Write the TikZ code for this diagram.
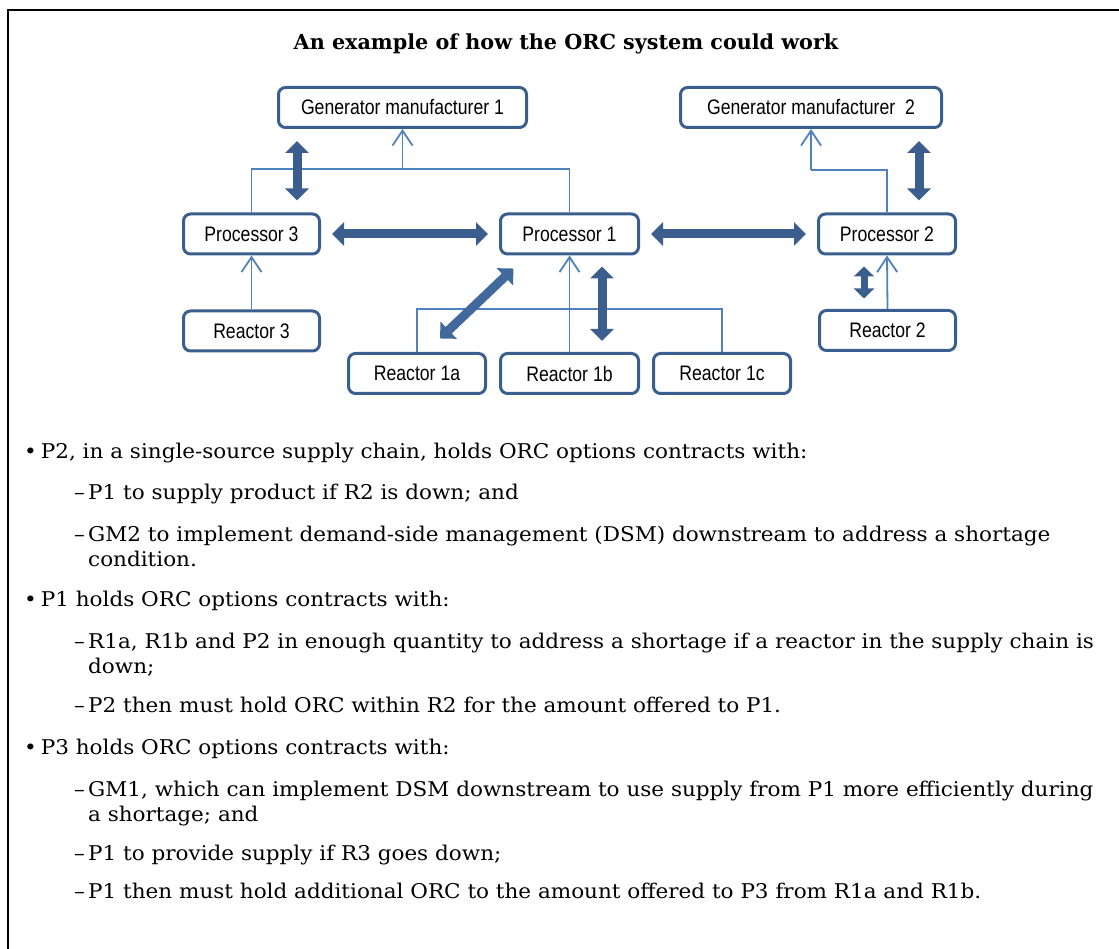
\documentclass[tikz,border=0pt]{standalone}
\usepackage{fontspec}
\setmainfont{DejaVu Serif}
\newfontfamily\bodyfont[FakeStretch=1.06]{DejaVu Serif}
\newfontfamily\nodefont[FakeStretch=0.84]{Liberation Sans}
\usetikzlibrary{arrows.meta,calc}
\definecolor{boxblue}{RGB}{58,95,142}
\definecolor{lineblue}{RGB}{79,129,189}
\definecolor{arrowblue}{RGB}{59,94,142}
\definecolor{diagblue}{RGB}{66,105,156}
\begin{document}
\begin{tikzpicture}[x=1pt,y=-1pt,
  box/.style={draw=boxblue, line width=3pt, rounded corners=7pt, minimum height=40pt, inner sep=0pt, font=\nodefont\fontsize{21}{21}\selectfont},
  thinline/.style={draw=lineblue, line width=1.8pt},
  thinarrow/.style={thinline, -{Straight Barb[length=15pt,width=20pt]}},
  thickarrow/.style={draw=arrowblue, line width=9pt, {Triangle[length=12pt,width=23pt]}-{Triangle[length=12pt,width=23pt]}},
  body/.style={anchor=base west, inner sep=0pt, font=\bodyfont\fontsize{20.3}{25}\selectfont, align=left},
]
\useasboundingbox (0,0) rectangle (1119,949);
% frame
\draw[line width=2.5pt, line cap=rect] (8,949) -- (8,10) -- (1119,10);
% title
\node[font=\bfseries\fontsize{20.7}{20.7}\selectfont] (title) at (566,44) {An example of how the ORC system could work};
% nodes
\node[box, minimum width=248pt] (gm1) at (402.5,107.5) {Generator manufacturer 1};
\node[box, minimum width=261pt] (gm2) at (811,107.5) {Generator manufacturer\ \ 2};
\node[box, minimum width=136pt] (p3) at (251.5,234) {Processor 3};
\node[box, minimum width=138pt] (p1) at (569.5,234) {Processor 1};
\node[box, minimum width=137pt] (p2) at (887,234) {Processor 2};
\node[box, minimum width=136pt] (r3) at (251.5,331) {Reactor 3};
\node[box, minimum width=137pt] (r1a) at (417,373.5) {Reactor 1a};
\node[box, minimum width=138pt] (r1b) at (569.5,373.5) {Reactor 1b};
\node[box, minimum width=137pt] (r1c) at (722,373.5) {Reactor 1c};
\node[box, minimum width=136pt] (r2) at (887.5,330.5) {Reactor 2};
% thin connectors
\coordinate (j1) at (402.5,169);
\draw[thinline] (p3.north) |- (j1) -| (p1.north);
\draw[thinarrow] (j1) -- (gm1.south);
\coordinate (j2) at (811,170);
\draw[thinline] (p2.north) |- (j2);
\draw[thinarrow] (j2) -- (gm2.south);
\draw[thinarrow] (r3.north) -- (p3.south);
\draw[thinarrow] (r1b.north) -- (p1.south);
\coordinate (j3) at (569.5,309);
\draw[thinline] (r1a.north) |- (j3) -| (r1c.north);
\draw[thinarrow] (r2.north) -- (p2.south);
% thick arrows
\coordinate (c1) at ($(p3.north)+(45.5,0)$);
\draw[thickarrow, shorten <=12pt, shorten >=12pt] (c1 |- gm1.south) -- (c1);
\draw[thickarrow, shorten <=11pt, shorten >=11pt] (p3.east) -- (p1.west);
\draw[thickarrow, shorten <=11pt, shorten >=11pt] (p1.east) -- (p2.west);
\coordinate (c2) at ($(p2.north)+(32,0)$);
\draw[thickarrow, shorten <=12pt, shorten >=12pt] (c2 |- gm2.south) -- (c2);
\coordinate (c3) at ($(p1.south)+(32.5,0)$);
\draw[thickarrow, shorten <=11pt, shorten >=11pt] (c3) -- (c3 |- r1b.north);
\coordinate (c4) at ($(p2.south)+(-23,0)$);
\draw[thickarrow, line width=7pt, {Triangle[length=10pt,width=20pt]}-{Triangle[length=10pt,width=20pt]}, shorten <=11pt, shorten >=10.5pt] (c4) -- (c4 |- r2.north);
\draw[thickarrow, draw=diagblue] ($(p1.south west)+(14.5,13)$) -- ($(r1a.north)+(23,-13.5)$);
% text
\node[body] (b1) at (24,458) {•\hspace{4pt}P2, in a single-source supply chain, holds ORC options contracts with:};
\node[body] (b1a) at (74,499) {\makebox[14pt][l]{–}P1 to supply product if R2 is down; and};
\node[body] (b1b) at (74,566) {\makebox[14pt][l]{–}GM2 to implement demand-side management (DSM) downstream to address a shortage\\\hspace*{14pt}condition.};
\node[body] (b2) at (24,606) {•\hspace{4pt}P1 holds ORC options contracts with:};
\node[body] (b2a) at (74,673) {\makebox[14pt][l]{–}R1a, R1b and P2 in enough quantity to address a shortage if a reactor in the supply chain is\\\hspace*{14pt}down;};
\node[body] (b2b) at (74,712) {\makebox[14pt][l]{–}P2 then must hold ORC within R2 for the amount offered to P1.};
\node[body] (b3) at (24,754) {•\hspace{4pt}P3 holds ORC options contracts with:};
\node[body] (b3a) at (74,821) {\makebox[14pt][l]{–}GM1, which can implement DSM downstream to use supply from P1 more efficiently during\\\hspace*{14pt}a shortage; and};
\node[body] (b3b) at (74,860) {\makebox[14pt][l]{–}P1 to provide supply if R3 goes down;};
\node[body] (b3c) at (74,898) {\makebox[14pt][l]{–}P1 then must hold additional ORC to the amount offered to P3 from R1a and R1b.};
\end{tikzpicture}
\end{document}
